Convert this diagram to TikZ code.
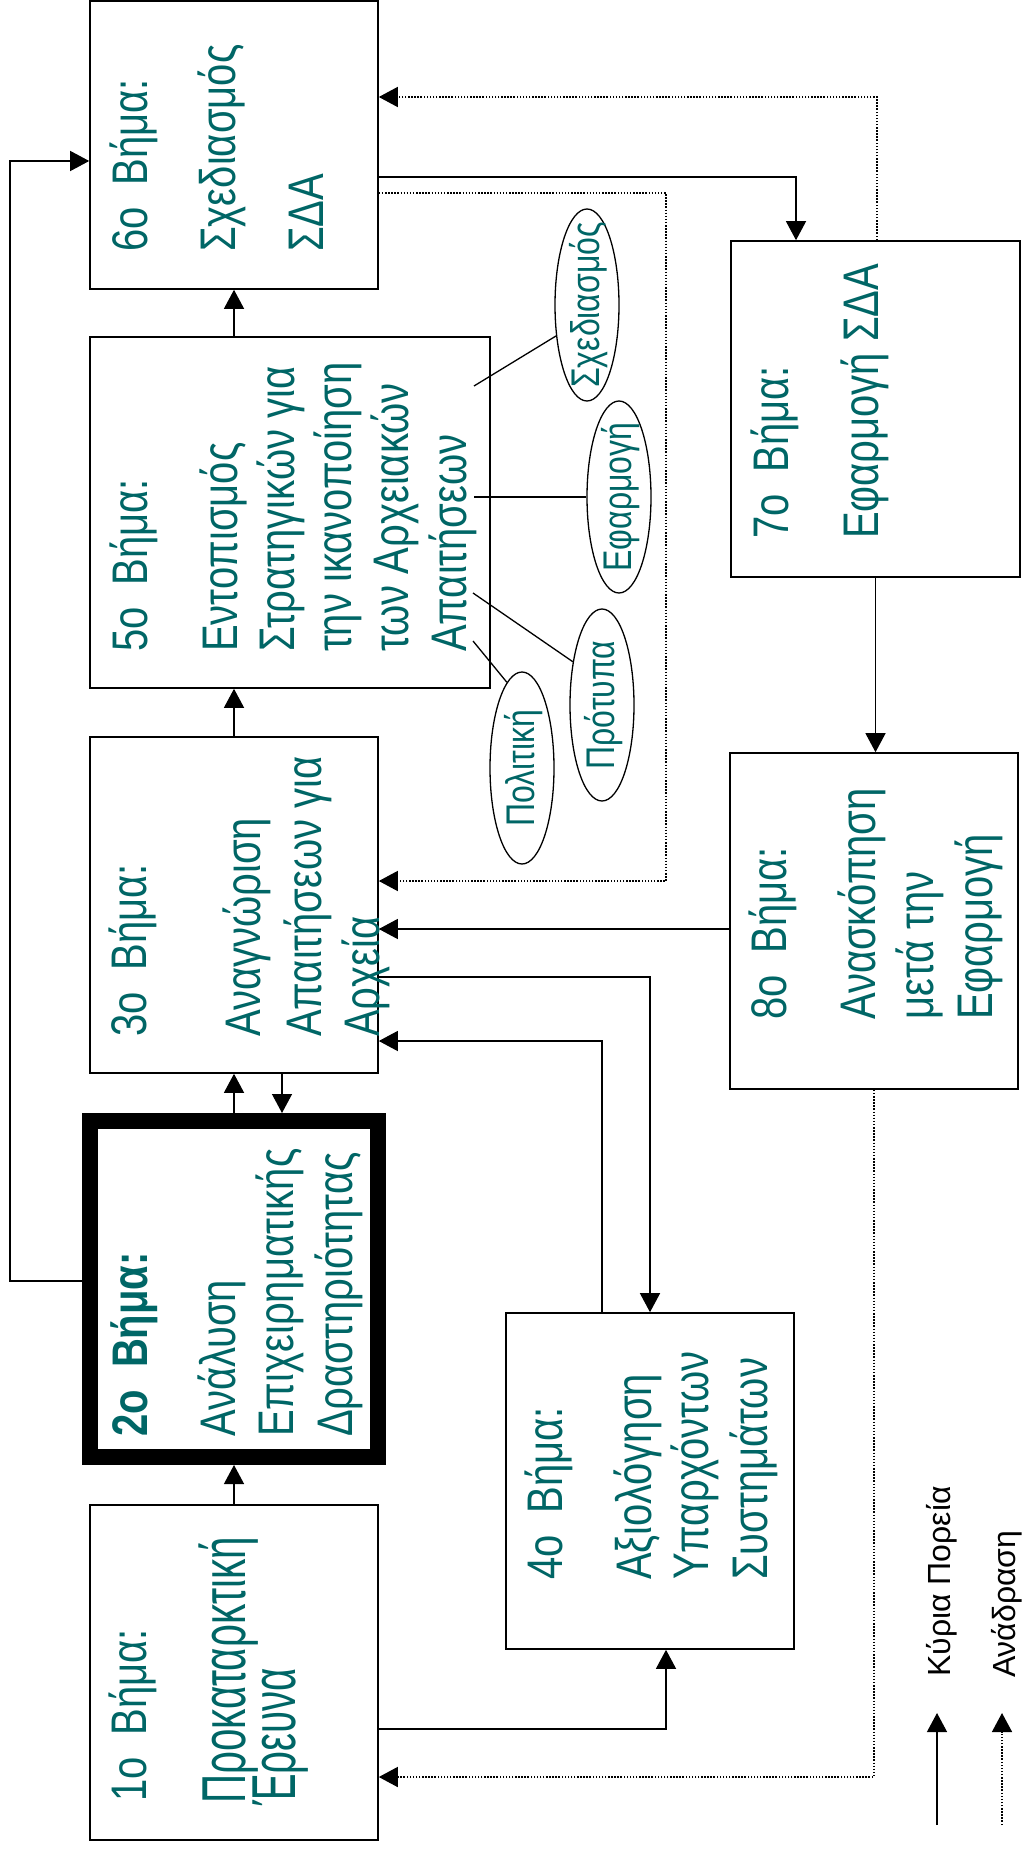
\documentclass[tikz,border=0pt]{standalone}
\usepackage{fontspec}
\setmainfont{Liberation Sans}
\newfontfamily\stepfont[FakeStretch=0.8]{Liberation Sans}
\newfontfamily\tallfont[FakeStretch=0.65]{Liberation Sans}
\usetikzlibrary{arrows.meta,shapes.geometric}
\definecolor{stepteal}{RGB}{0,102,102}
\newcommand{\elltext}[1]{\makebox[0pt]{\raisebox{-0.3em}[0pt][0pt]{#1}}}
\begin{document}
\begin{tikzpicture}[x=1pt,y=-1pt,
  stepbox/.style={draw, rectangle, line width=1.6pt, inner sep=0pt},
  mainline/.style={line width=1.3pt, -{Triangle[length=19pt,width=20pt]}},
  fbline/.style={line width=1.5pt, dash pattern=on 1.5pt off 1.6pt, -{Triangle[length=19pt,width=20pt]}},
  plainline/.style={line width=1.3pt},
  txt/.style={rotate=90, anchor=base west, inner sep=0pt, text=stepteal, font=\stepfont\fontsize{50}{60}\selectfont},
  talltxt/.style={txt, font=\tallfont\fontsize{62}{70}\selectfont},
  boldtxt/.style={txt, font=\stepfont\bfseries\fontsize{50}{60}\selectfont},
  ell/.style={draw, ellipse, rotate=90, line width=1.3pt, inner sep=0pt, minimum width=192pt, minimum height=64pt, text=stepteal, font=\stepfont\fontsize{40}{46}\selectfont},
  legtxt/.style={rotate=90, anchor=base west, inner sep=0pt, text=black, font=\fontsize{32}{38}\selectfont}
]
\useasboundingbox (0,0) rectangle (1024,1851);
\fill[white] (0,0) rectangle (1024,1851);

% boxes
\node[stepbox, minimum width=288pt, minimum height=288pt] (b6) at (234,145) {};
\node[stepbox, minimum width=400pt, minimum height=351pt] (b5) at (290,512.5) {};
\node[stepbox, minimum width=288pt, minimum height=336pt] (b3) at (234,905) {};
\node[stepbox, line width=16pt, minimum width=288pt, minimum height=336pt] (b2) at (234,1289) {};
\node[stepbox, minimum width=288pt, minimum height=335pt] (b1) at (234,1672.5) {};
\node[stepbox, minimum width=288pt, minimum height=336pt] (b4) at (650,1481) {};
\node[stepbox, minimum width=289pt, minimum height=336pt] (b7) at (875.5,409) {};
\node[stepbox, minimum width=288pt, minimum height=336pt] (b8) at (874,921) {};

% texts
\foreach \nm/\x/\y/\t in {
  t6a/147/252/{6ο~~Βήμα:}, t6b/235/252/{Σχεδιασμός}, t6c/323/252/{ΣΔΑ},
  t5a/147/652/{5ο~~Βήμα:}, t5b/237/652/{Εντοπισμός}, t5c/294/652/{Στρατηγικών για},
  t5d/351/652/{την ικανοποίηση}, t5e/408/652/{των Αρχειακών}, t5f/466/652/{Απαιτήσεων},
  t3a/146/1037/{3ο~~Βήμα:}, t3b/260/1037/{Αναγνώριση}, t3c/321/1037/{Απαιτήσεων για}, t3d/379/1037/{Αρχεία},
  t2b/235/1437/{Ανάλυση}, t2c/293/1437/{Επιχειρηματικής}, t2d/352/1437/{Δραστηριότητας},
  t1a/146/1802/{1ο~~Βήμα:},
  t4a/562/1580/{4ο~~Βήμα:}, t4b/651/1580/{Αξιολόγηση}, t4c/708/1580/{Υπαρχόντων}, t4d/767/1580/{Συστημάτων},
  t7a/788/539/{7ο~~Βήμα:}, t7b/878/539/{Εφαρμογή ΣΔΑ},
  t8a/786/1020/{8ο~~Βήμα:}, t8b/875/1020/{Ανασκόπηση}, t8c/933/1020/{μετά την}, t8d/992/1020/{Εφαρμογή}}
  \node[txt] (\nm) at (\x,\y) {\t};
\node[boldtxt] (t2a) at (147,1437) {2ο~~Βήμα:};
\node[talltxt] (t1b) at (245,1804) {Προκαταρκτική};
\node[talltxt] (t1c) at (295,1806) {Έρευνα};

% ellipses
\node[ell] (eS) at (587,305) {\elltext{Σχεδιασμός}};
\node[ell] (eE) at (619,497) {\elltext{Εφαρμογή}};
\node[ell] (eP) at (602,705) {\elltext{Πρότυπα}};
\node[ell] (eL) at (522,768) {\elltext{Πολιτική}};
\coordinate (p1) at (474,386);
\coordinate (p2) at (474,497);
\coordinate (p3) at (473,593);
\coordinate (p4) at (473,641);
\draw[plainline] (p1) -- (eS.135);
\draw[plainline] (p2) -- (eE.90);
\draw[plainline] (p3) -- (eP.34);
\draw[plainline] (p4) -- (eL.10);

% main flow
\draw[mainline] (b1.north) -- (b2.south);
\draw[mainline] (b2.north) -- (b3.south);
\draw[mainline] (b3.south -| 282,0) -- (b2.north -| 282,0);
\draw[mainline] (b3.north) -- (b5.south -| b3.north);
\draw[mainline] (b5.north -| b6.south) -- (b6.south);
\draw[mainline] (b2.west |- 0,1281) -| (10,161) -- (b6.west |- 0,161);
\draw[mainline] (b6.east |- 0,177) -| (b7.north -| 796,0);
\draw[mainline] (b7.south) -- (b7.south |- b8.north);
\draw[mainline] (b8.west |- 0,929) -- (b3.east |- 0,929);
\draw[mainline] (b3.east |- 0,977) -| (b4.north);
\draw[mainline] (b4.north -| 602,0) |- (b3.east |- 0,1041);
\draw[mainline] (b1.east |- 0,1729) -| (b4.south -| 666,0);

% feedback
\draw[fbline] (b7.north -| 877,0) |- (b6.east |- 0,97);
\draw[fbline] (b6.east |- 0,193) -| (666,881) -- (b3.east |- 0,881);
\draw[fbline] (b8.south) |- (b1.east |- 0,1777);

% legend
\coordinate (l1s) at (937,1825);
\coordinate (l1e) at (937,1713);
\coordinate (l2s) at (1002,1825);
\coordinate (l2e) at (1002,1713);
\draw[mainline] (l1s) -- (l1e);
\draw[fbline] (l2s) -- (l2e);
\node[legtxt] (lg1) at (950,1677) {Κύρια Πορεία};
\node[legtxt] (lg2) at (1015,1678) {Ανάδραση};
\end{tikzpicture}
\end{document}
